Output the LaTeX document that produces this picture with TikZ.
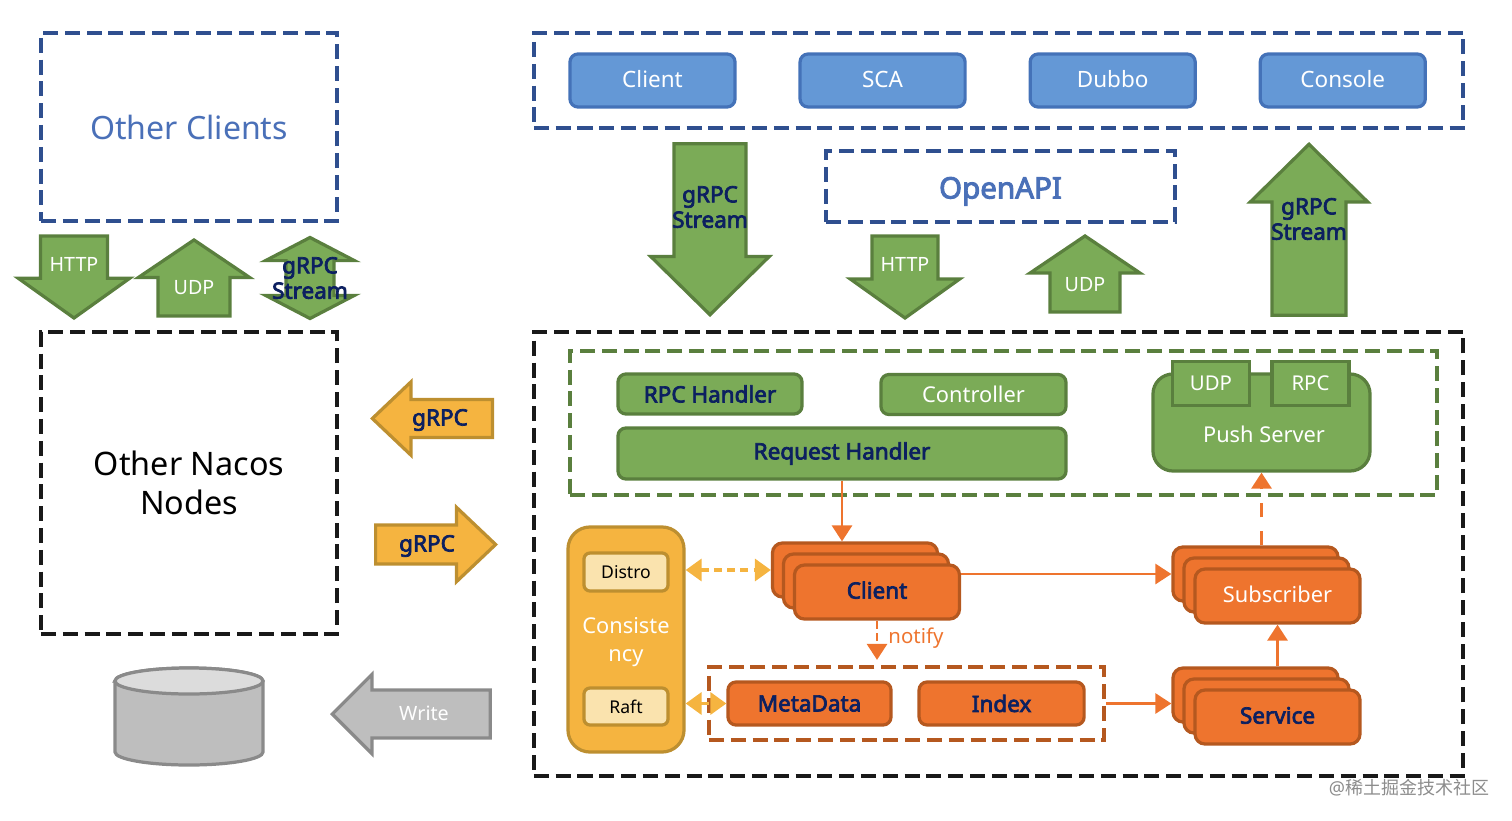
\documentclass[tikz,border=0pt]{standalone}
\usepackage{fontspec}
\setmainfont{Noto Sans}
\newfontfamily\cjkfont{Noto Sans CJK SC}
\newfontfamily\heavyfont[FakeBold=3.2]{Noto Sans}
\usetikzlibrary{shapes, shapes.arrows, shapes.geometric, arrows.meta, positioning, calc}

\definecolor{grnfill}{HTML}{7BAB57}
\definecolor{grnline}{HTML}{5A7F3E}
\definecolor{bluefill}{HTML}{6498D6}
\definecolor{blueline}{HTML}{4472B8}
\definecolor{bluedash}{HTML}{2F4F8F}
\definecolor{bluetext}{HTML}{4A70B8}
\definecolor{orgfill}{HTML}{EE742E}
\definecolor{orgline}{HTML}{B5581F}
\definecolor{ylwfill}{HTML}{F5B440}
\definecolor{ylwline}{HTML}{BD8F30}
\definecolor{ylwlight}{HTML}{FAE3AE}
\definecolor{gryfill}{HTML}{BEBEBE}
\definecolor{gryline}{HTML}{8A8A8A}
\definecolor{navytext}{HTML}{0C2060}

\tikzset{
  dashbox/.style={draw=#1, line width=3pt, dash pattern=on 0.375cm off 0.17cm, inner sep=0pt},
  roundbox/.style={draw=#1, line width=2.3pt, rounded corners=0.2cm, inner sep=0pt},
  bluebox/.style={roundbox=blueline, fill=bluefill, text=white, font=\fontsize{16}{18}\selectfont, minimum width=4.125cm, minimum height=1.325cm, text height=0.36cm, text depth=0pt},
  grnbox/.style={roundbox=grnline, fill=grnfill, font=\fontsize{15.5}{18}\selectfont},
  orgbox/.style={roundbox=orgline, fill=orgfill, font=\fontsize{15.5}{18}\selectfont},
  stackbox/.style={orgbox, minimum width=4.125cm, minimum height=1.35cm, rounded corners=0.25cm, text height=0.33cm, text depth=0pt},
  navy/.style={text=navytext, font=\fontsize{16}{18}\selectfont\heavyfont},
  arrowtext/.style={inner sep=0pt, align=center, font=\fontsize{14}{18.5}\selectfont},
  onearrow/.style={single arrow, draw=#1, line width=2.3pt, inner sep=0pt, single arrow head indent=0pt},
  grnarrow/.style={onearrow=grnline, fill=grnfill},
  link/.style={draw=orgfill, line width=2.1pt, -{Triangle[length=0.4cm, width=0.5cm]}},
  ylwlink/.style={draw=ylwfill, line width=2.5pt, {Triangle[length=0.4cm, width=0.55cm]}-{Triangle[length=0.4cm, width=0.55cm]}, dash pattern=on 0.2cm off 0.13cm},
}

\begin{document}
\begin{tikzpicture}[x=0.025cm, y=-0.025cm]
\useasboundingbox (0,0) rectangle (1512,821);

% clients
\node[dashbox=bluedash, minimum width=7.4cm, minimum height=4.7cm, text=bluetext, font=\fontsize{22.8}{27}\selectfont] (otherClients) at (189,127) {Other Clients};
\node[dashbox=bluedash, minimum width=23.225cm, minimum height=2.375cm] (clientArea) at (998.5,80.5) {};
\node[bluebox] (client) at (652.5,80.5) {Client};
\node[bluebox, right=1.545cm of client] (sca) {SCA};
\node[bluebox, right=1.545cm of sca] (dubbo) {Dubbo};
\node[bluebox, right=1.545cm of dubbo] (console) {Console};
\node[dashbox=bluedash, minimum width=8.725cm, minimum height=1.775cm, text=bluetext, text height=0.6cm, text depth=0pt, font=\fontsize{21}{25}\selectfont\heavyfont] (openApi) at (1000.5,186.5) {OpenAPI};

% arrows between the areas
\node[grnarrow, shape border rotate=270, anchor=tip, text width=1.595cm, minimum height=2.05cm, single arrow head extend=0.555cm, single arrow tip angle=109] (leftHttp) at (74,320) {};
\node[arrowtext, text=white] (leftHttpText) at (74,264) {HTTP};
\node[grnarrow, shape border rotate=90, anchor=tip, text width=1.72cm, minimum height=1.9cm, single arrow head extend=0.49cm, single arrow tip angle=112] (leftUdp) at (194,238) {};
\node[arrowtext, text=white] (leftUdpText) at (194,288) {UDP};
\node[double arrow, draw=grnline, fill=grnfill, line width=2.3pt, inner sep=0pt, shape border rotate=90, text width=1.12cm, minimum height=2.025cm, double arrow head extend=0.51cm, double arrow head indent=0pt, double arrow tip angle=125] (leftStream) at (310,278) {};
\node[arrowtext, navy, align=center] (leftStreamText) at (310,278) {gRPC\\Stream};

\node[grnarrow, shape border rotate=270, anchor=tip, text width=1.72cm, minimum height=4.275cm, single arrow head extend=0.58cm, single arrow tip angle=91] (streamDown) at (710,317) {};
\node[arrowtext, navy] (streamDownText) at (710,207) {gRPC\\Stream};
\node[grnarrow, shape border rotate=270, anchor=tip, text width=1.57cm, minimum height=2.05cm, single arrow head extend=0.54cm, single arrow tip angle=109] (openHttp) at (905,320) {};
\node[arrowtext, text=white] (openHttpText) at (905,264) {HTTP};
\node[grnarrow, shape border rotate=90, anchor=tip, text width=1.67cm, minimum height=1.9cm, single arrow head extend=0.5cm, single arrow tip angle=112] (openUdp) at (1085,234) {};
\node[arrowtext, text=white] (openUdpText) at (1085,285) {UDP};
\node[grnarrow, shape border rotate=90, anchor=tip, text width=1.77cm, minimum height=4.275cm, single arrow head extend=0.54cm, single arrow tip angle=91] (streamUp) at (1309,142) {};
\node[arrowtext, navy] (streamUpText) at (1309,219) {gRPC\\Stream};

% nodes on the left
\node[dashbox=black!90, minimum width=7.4cm, minimum height=7.55cm, align=center, font=\fontsize{23}{27.5}\selectfont] (otherNodes) at (189,483) {Other Nacos\\Nodes};
\node[onearrow=ylwline, fill=ylwfill, shape border rotate=180, anchor=tip, text height=0.87cm, text depth=0pt, minimum height=3cm, single arrow head extend=0.44cm, single arrow tip angle=87] (grpcLeft) at (370,418.5) {};
\node[arrowtext, navy] (grpcLeftText) at (440,420) {gRPC};
\node[onearrow=ylwline, fill=ylwfill, anchor=tip, text height=0.895cm, text depth=0pt, minimum height=3cm, single arrow head extend=0.44cm, single arrow tip angle=87] (grpcRight) at (498,544.5) {};
\node[arrowtext, navy] (grpcRightText) at (427,546) {gRPC};
\node[onearrow=gryline, fill=gryfill, shape border rotate=180, anchor=tip, text height=1.12cm, text depth=0pt, minimum height=3.95cm, single arrow head extend=0.39cm, single arrow tip angle=90] (writeArrow) at (330,714) {};
\node[arrowtext, text=white] (writeText) at (424,713) {Write};
% the store
\draw[draw=gryline, line width=2.3pt, fill=gryfill] (115,681) -- (115,752) arc[start angle=180, end angle=360, x radius=1.85cm, y radius=0.325cm] -- (263,681) arc[start angle=0, end angle=180, x radius=1.85cm, y radius=0.325cm] -- cycle;
\draw[draw=gryline, line width=2.3pt, fill=gryline!30] (189,681) ellipse[x radius=1.85cm, y radius=0.325cm];

% the server
\node[dashbox=black!90, minimum width=23.225cm, minimum height=11.1cm] (server) at (998.5,554) {};
\node[dashbox=grnline, minimum width=21.675cm, minimum height=3.6cm] (access) at (1003.5,423) {};
\node[grnbox, navy, minimum width=4.6cm, minimum height=1cm] (rpcHandler) at (710,394) {RPC Handler};
\node[grnbox, text=white, minimum width=4.625cm, minimum height=1cm] (controller) at (973.5,394.5) {Controller};
\node[grnbox, navy, minimum width=11.2cm, minimum height=1.275cm] (reqHandler) at (842,453.5) {Request Handler};
\node[grnbox, text=white, minimum width=5.425cm, minimum height=2.425cm, rounded corners=0.5cm] (pushServer) at (1261.5,422.5) {};
\node[grnbox, text=white, rounded corners=0pt, minimum width=1.925cm, minimum height=1.1cm, font=\fontsize{14.5}{18}\selectfont] (pushUdp) at (1211,383.5) {UDP};
\node[grnbox, text=white, rounded corners=0pt, minimum width=1.925cm, minimum height=1.1cm, font=\fontsize{14.5}{18}\selectfont, right=0.48cm of pushUdp] (pushRpc) {RPC};
\node[inner sep=0pt, text=white, font=\fontsize{15.5}{18}\selectfont] (pushText) at (1264,434) {Push Server};

\node[roundbox=ylwline, fill=ylwfill, rounded corners=0.55cm, minimum width=2.9cm, minimum height=5.625cm] (consistency) at (626,639.5) {};
\node[inner sep=0pt, text=white, align=center, font=\fontsize{15.5}{19.5}\selectfont] (consistencyText) at (626,642) {Consiste\\ncy};
\node[roundbox=ylwline, fill=ylwlight, rounded corners=0.15cm, minimum width=2.1cm, minimum height=0.95cm, font=\fontsize{12.5}{15}\selectfont] (distro) at (626,572) {Distro};
\node[roundbox=ylwline, fill=ylwlight, rounded corners=0.15cm, minimum width=2.1cm, minimum height=0.925cm, font=\fontsize{12.5}{15}\selectfont] (raft) at (626,706.5) {Raft};

\node[stackbox] (clientBack) at (855,570) {};
\node[stackbox, xshift=0.275cm, yshift=-0.275cm] (clientMid) at (clientBack) {};
\node[stackbox, navy, xshift=0.275cm, yshift=-0.275cm] (clientFront) at (clientMid) {Client};
\node[stackbox] (subBack) at (1255.5,574) {};
\node[stackbox, xshift=0.275cm, yshift=-0.275cm] (subMid) at (subBack) {};
\node[stackbox, text=white, xshift=0.275cm, yshift=-0.275cm] (subFront) at (subMid) {Subscriber};
\node[stackbox] (serviceBack) at (1255.5,695) {};
\node[stackbox, xshift=0.275cm, yshift=-0.275cm] (serviceMid) at (serviceBack) {};
\node[stackbox, navy, xshift=0.275cm, yshift=-0.275cm] (serviceFront) at (serviceMid) {Service};

\node[dashbox=orgline, minimum width=9.875cm, minimum height=1.825cm] (metaBox) at (906.5,703.5) {};
\node[orgbox, navy, minimum width=4.075cm, minimum height=1.075cm] (metaData) at (809.5,703.5) {MetaData};
\node[orgbox, navy, minimum width=4.125cm, minimum height=1.075cm, right=0.62cm of metaData] (index) {Index};

% connectors
\draw[link] (reqHandler.south) -- (reqHandler.south |- clientBack.north);
\draw[link] (subBack.west -| clientFront.east) -- (subBack.west);
\draw[link, dash pattern=on 0.2cm off 0.12cm] (clientFront.south) -- node[right=0.25cm, yshift=0.06cm, text=orgfill, inner sep=0pt, font=\fontsize{14.5}{18}\selectfont] (notifyText) {notify} ($(clientFront.south |- metaBox.north)+(0,-5)$);
\draw[link, dash pattern=on 0.35cm off 0.35cm] (pushServer.south |- subBack.north) -- (pushServer.south);
\draw[link] (subFront.south |- serviceBack.north) -- (subFront.south);
\draw[link] (metaBox.east) -- (metaBox.east -| serviceBack.west);
\draw[ylwlink] (consistency.east |- clientBack.west) -- (clientBack.west);
\draw[ylwlink] (consistency.east |- metaData.west) -- (metaData.west);

\node[inner sep=0pt, text=black!45, font=\fontsize{12.8}{15}\selectfont] (watermark) at (1409,788) {@\cjkfont 稀土掘金技术社区};

\end{tikzpicture}
\end{document}
